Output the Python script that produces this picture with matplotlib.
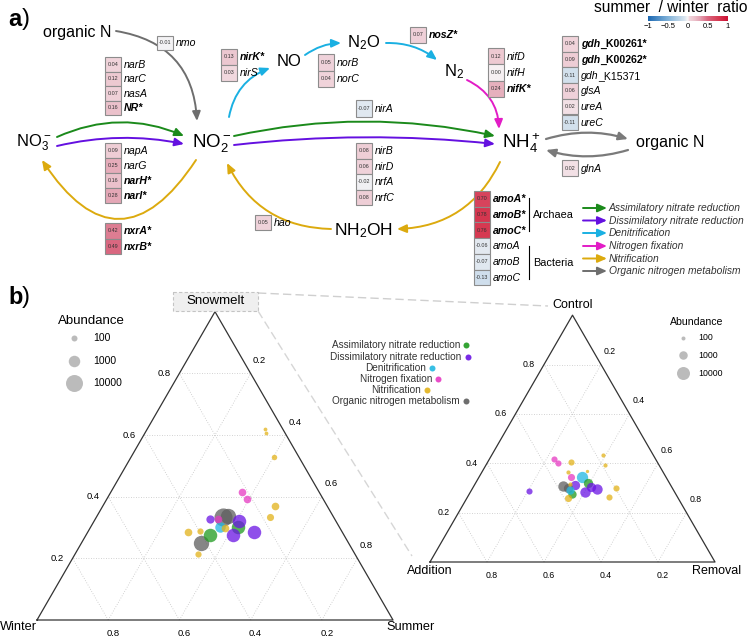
import numpy as np
import matplotlib.pyplot as plt
from matplotlib.patches import FancyArrowPatch, Rectangle
from matplotlib.colors import LinearSegmentedColormap, Normalize
from matplotlib.cm import ScalarMappable
from matplotlib.offsetbox import TextArea, HPacker, AnnotationBbox

plt.rcParams['font.family'] = ['Liberation Sans', 'DejaVu Sans']
plt.rcParams['mathtext.fontset'] = 'custom'
plt.rcParams['mathtext.rm'] = 'Liberation Sans'
plt.rcParams['mathtext.it'] = 'Liberation Sans:italic'
plt.rcParams['mathtext.bf'] = 'Liberation Sans:bold'

W, H = 749, 637

# ---- data: summer/winter ratio per gene ----
nar_genes = ['narB', 'narC', 'nasA', 'NR*']
nar_vals = [0.04, 0.12, 0.07, 0.16]
nap_genes = ['napA', 'narG', 'narH*', 'narI*']
nap_vals = [0.09, 0.25, 0.16, 0.28]
nxr_genes = ['nxrA*', 'nxrB*']
nxr_vals = [0.42, 0.49]
nmo_genes = ['nmo']
nmo_vals = [-0.01]
nir_genes = ['nirK*', 'nirS']
nir_vals = [0.13, 0.03]
nor_genes = ['norB', 'norC']
nor_vals = [0.05, 0.04]
nos_genes = ['nosZ*']
nos_vals = [0.07]
nirA_genes = ['nirA']
nirA_vals = [-0.07]
nrf_genes = ['nirB', 'nirD', 'nrfA', 'nrfC']
nrf_vals = [0.08, 0.06, -0.02, 0.08]
hao_genes = ['hao']
hao_vals = [0.05]
nif_genes = ['nifD', 'nifH', 'nifK*']
nif_vals = [0.12, 0.00, 0.24]
gdh_genes = ['gdh_K00261*', 'gdh_K00262*', 'gdh_K15371', 'glsA', 'ureA', 'ureC']
gdh_vals = [0.04, 0.09, -0.11, 0.06, 0.02, -0.11]
gln_genes = ['glnA']
gln_vals = [0.02]
amo_genes = ['amoA*', 'amoB*', 'amoC*', 'amoA', 'amoB', 'amoC']
amo_vals = [0.70, 0.78, 0.76, -0.06, -0.07, -0.13]

path_names = ['Assimilatory nitrate reduction', 'Dissimilatory nitrate reduction',
              'Denitrification', 'Nitrogen fixation', 'Nitrification',
              'Organic nitrogen metabolism']
arrow_colors = ['#1b8a1b', '#6410e0', '#1ab0e2', '#e21cc6', '#dcaa0e', '#6e6e6e']
point_colors = ['#1f9a1f', '#6a14e4', '#22b8e2', '#e63ac2', '#e2b21a', '#5e5e5e']

# ---- ternary data (left: Snowmelt / Summer / Winter) ----
left_group = [4, 4, 4, 4, 4, 4, 4, 4, 4, 3, 3, 3, 1, 1, 1, 1, 0, 0, 5, 5, 5, 2]
left_snow = [0.62, 0.605, 0.53, 0.37, 0.335, 0.285, 0.29, 0.215, 0.30, 0.415, 0.393, 0.327,
             0.327, 0.322, 0.287, 0.276, 0.276, 0.303, 0.249, 0.333, 0.338, 0.303]
left_summer = [0.33, 0.34, 0.40, 0.483, 0.486, 0.282, 0.313, 0.346, 0.377, 0.368, 0.393, 0.346,
               0.323, 0.407, 0.467, 0.412, 0.348, 0.414, 0.335, 0.357, 0.368, 0.363]
left_abund = [40, 40, 80, 200, 160, 200, 110, 110, 200, 200, 200, 200,
              260, 2300, 2300, 2300, 2300, 2300, 5000, 16000, 5000, 650]

# right: Control / Removal / Addition
right_group = [3, 3, 4, 4, 4, 4, 4, 4, 4, 4, 4, 1, 1, 1, 1, 1, 2, 2, 5, 5, 0, 0, 3]
right_control = [0.417, 0.40, 0.406, 0.435, 0.392, 0.365, 0.368, 0.301, 0.262, 0.258, 0.315,
                 0.286, 0.295, 0.285, 0.312, 0.304, 0.343, 0.292, 0.308, 0.30, 0.319, 0.276, 0.344]
right_removal = [0.228, 0.25, 0.291, 0.391, 0.419, 0.303, 0.368, 0.502, 0.498, 0.356, 0.334,
                 0.204, 0.438, 0.402, 0.353, 0.413, 0.361, 0.345, 0.312, 0.334, 0.396, 0.36, 0.322]
right_abund = [300, 300, 300, 110, 110, 110, 70, 300, 300, 500, 110,
               300, 2600, 2600, 1500, 1500, 4200, 900, 2600, 1500, 1500, 900, 500]

legend_abund = [100, 1000, 10000]

cmap = LinearSegmentedColormap.from_list('ratio', [
    (0.0, '#1c68b2'), (0.25, '#80b2d9'), (0.45, '#d5e2ed'), (0.5, '#f7f4f5'),
    (0.515, '#f0d5dc'), (0.57, '#ecc6cf'), (0.65, '#e3a2b2'), (0.75, '#d9647d'),
    (0.88, '#d63a52'), (1.0, '#cc1034')])
norm = Normalize(-1, 1)

fig = plt.figure(figsize=(W / 100, H / 100), dpi=100)
ax = fig.add_axes([0, 0, 1, 1])
ax.set_xlim(0, W)
ax.set_ylim(H, 0)
ax.axis('off')


def arrow(p0, p1, rad, color, lw=1.4):
    ax.add_patch(FancyArrowPatch(p0, p1, connectionstyle=f'arc3,rad={rad}',
                                 arrowstyle='-|>,head_length=0.55,head_width=0.24',
                                 mutation_scale=10, color=color, lw=lw,
                                 shrinkA=0, shrinkB=0))


def gene_label(x, y, name, size=7.6):
    weight = 'bold' if name.endswith('*') else 'normal'
    if '_' in name:
        stem, rest = name.split('_', 1)
        box = HPacker(children=[
            TextArea(stem, textprops=dict(style='italic', weight=weight, size=size)),
            TextArea('_' + rest, textprops=dict(weight=weight, size=size))],
            pad=0, sep=0, align='baseline')
        ax.add_artist(AnnotationBbox(box, (x, y), box_alignment=(0, 0.5),
                                     frameon=False, pad=0))
    else:
        ax.text(x, y, name, style='italic', weight=weight, size=size,
                ha='left', va='center')


def heat_column(x, y, step, genes, vals):
    for i, (g, v) in enumerate(zip(genes, vals)):
        yy = y + i * step
        ax.add_patch(Rectangle((x, yy), 16, step, facecolor=cmap(norm(v)),
                               edgecolor='#8c8c8c', lw=0.8))
        ax.text(x + 8, yy + step / 2, f'{v:.2f}', size=3.9, color='#333333',
                ha='center', va='center')
        gene_label(x + 19, yy + step / 2 + 0.5, g)


# ---- panel a ----
ax.text(8, 20, 'a', size=17, weight='bold', va='center')
ax.text(22, 19, ')', size=17, va='center')

chem = dict(ha='center', va='center', color='black')
ax.text(77, 33, 'organic N', size=11.5, **chem)
ax.text(34, 143, r'NO$_3^-$', size=12, **chem)
ax.text(212, 143, r'NO$_2^-$', size=13.5, **chem)
ax.text(289, 62, 'NO', size=12, **chem)
ax.text(364, 43, r'N$_2$O', size=12, **chem)
ax.text(454, 72, r'N$_2$', size=12, **chem)
ax.text(521, 143, r'NH$_4^+$', size=13.5, **chem)
ax.text(670, 143, 'organic N', size=11.5, **chem)
ax.text(364, 231, r'NH$_2$OH', size=12.5, **chem)

ac = dict(zip(['as', 'dis', 'den', 'fix', 'nit', 'org'], arrow_colors))
arrow((116, 31), (197, 121), -0.4, ac['org'])
arrow((57, 137), (184, 136), -0.22, ac['as'])
arrow((57, 146), (184, 144), -0.11, ac['dis'])
arrow((196, 160), (42, 160), -0.76, ac['nit'])
arrow((229, 117), (270, 68), -0.28, ac['den'])
arrow((305, 55), (341, 43), -0.15, ac['den'])
arrow((386, 43), (437, 60), -0.18, ac['den'])
arrow((467, 80), (499, 129), -0.3, ac['fix'])
arrow((234, 136), (495, 136), -0.11, ac['as'])
arrow((234, 145), (495, 144), -0.055, ac['dis'])
arrow((500, 162), (397, 229), -0.3, ac['nit'])
arrow((331, 229), (227, 163), -0.3, ac['nit'])
arrow((546, 139), (628, 139), -0.15, '#7a7a7a', lw=1.6)
arrow((628, 150), (546, 150), -0.15, '#7a7a7a', lw=1.6)

heat_column(105, 57, 14.5, nar_genes, nar_vals)
heat_column(105, 143, 15, nap_genes, nap_vals)
heat_column(105, 223, 15.5, nxr_genes, nxr_vals)
heat_column(157, 36, 14, nmo_genes, nmo_vals)
heat_column(221, 49, 16, nir_genes, nir_vals)
heat_column(318, 54, 16.5, nor_genes, nor_vals)
heat_column(410, 27, 15.5, nos_genes, nos_vals)
heat_column(356, 100, 16.5, nirA_genes, nirA_vals)
heat_column(356, 143, 15.5, nrf_genes, nrf_vals)
heat_column(255, 215, 15, hao_genes, hao_vals)
heat_column(488, 48, 16.3, nif_genes, nif_vals)
heat_column(562, 36, 15.7, gdh_genes, gdh_vals)
heat_column(562, 160, 16, gln_genes, gln_vals)
heat_column(474, 191, 15.7, amo_genes, amo_vals)

ax.plot([529, 529], [198, 231], color='black', lw=0.8)
ax.plot([529, 529], [246, 279], color='black', lw=0.8)
ax.text(533, 215, 'Archaea', size=7.8, va='center')
ax.text(533, 263, 'Bacteria', size=7.8, va='center')

leg_y = [208, 220.5, 233, 246, 258.5, 271]
for yy, name, col in zip(leg_y, path_names, arrow_colors):
    arrow((583, yy), (607, yy), 0, col, lw=1.4)
    ax.text(609, yy, name, style='italic', size=7.4, color='#333333', va='center')

ax.text(748, 8, 'summer  / winter  ratio', size=11.2, ha='right', va='center')
cax = fig.add_axes([648 / W, 1 - 21 / H, 80 / W, 5 / H])
cb = fig.colorbar(ScalarMappable(norm=norm, cmap=cmap), cax=cax, orientation='horizontal',
                  ticks=[-1, -0.5, 0, 0.5, 1])
cb.outline.set_visible(False)
cb.ax.tick_params(length=0, labelsize=5.5, pad=1.5)
cb.ax.set_xticklabels(['\u22121', '\u22120.5', '0', '0.5', '1'])

# ---- panel b ----
ax.text(8, 298, 'b', size=17, weight='bold', va='center')
ax.text(22, 297, ')', size=17, va='center')


def tern_xy(top, right, x0, y0, w):
    top = np.asarray(top, float)
    right = np.asarray(right, float)
    return x0 + w * (right + top / 2), y0 - w * np.sqrt(3) / 2 * top


def draw_ternary(x0, y0, w, tick_size):
    cx, cy = tern_xy([0, 0, 1, 0], [0, 1, 0, 0], x0, y0, w)
    ax.plot(cx, cy, color='#333333', lw=0.9, zorder=2)
    for v in [0.2, 0.4, 0.6, 0.8]:
        gl = dict(color='#c4c4c4', lw=0.6, ls=(0, (1, 2)), zorder=1)
        x, y = tern_xy([v, v], [0, 1 - v], x0, y0, w)
        ax.plot(x, y, **gl)
        x, y = tern_xy([0, 1 - v], [v, v], x0, y0, w)
        ax.plot(x, y, **gl)
        x, y = tern_xy([0, 1 - v], [1 - v, 0], x0, y0, w)
        ax.plot(x, y, **gl)
        lab = f'{v:.1f}'
        x, y = tern_xy(v, 0, x0, y0, w)
        ax.text(x - 15, y, lab, size=tick_size, ha='center', va='center')
        x, y = tern_xy(1 - v, v, x0, y0, w)
        ax.text(x + 9, y - 13, lab, size=tick_size, ha='center', va='center')
        x, y = tern_xy(0, 1 - v, x0, y0, w)
        ax.text(x + 5, y + 13, lab, size=tick_size, ha='center', va='center')


def size_left(a):
    d = 5.5 * np.log10(np.asarray(a, float)) - 5
    return (d * 0.72) ** 2


def size_right(a):
    d = 4.5 * np.log10(np.asarray(a, float)) - 5
    return (d * 0.72) ** 2


def scatter_tern(top, right, groups, abund, x0, y0, w, sizefn):
    x, y = tern_xy(top, right, x0, y0, w)
    order = np.argsort(abund)[::-1]
    for i in order:
        ax.scatter(x[i], y[i], s=sizefn(abund[i]), color=point_colors[groups[i]],
                   alpha=0.75, lw=0, zorder=3)


# connectors
ax.plot([258, 548], [293, 306], color='#cfcfcf', lw=1, ls=(0, (6, 3)), zorder=0)
ax.plot([258, 412], [311, 556], color='#d6d6d6', lw=1, ls=(0, (6, 3)), zorder=0)

draw_ternary(37, 620, 356, 6.8)
scatter_tern(left_snow, left_summer, left_group, left_abund, 37, 620, 356, size_left)
ax.add_patch(Rectangle((173, 292), 85, 19, facecolor='#efefef', edgecolor='#c4c4c4',
                       lw=0.8, ls=(0, (3, 2)), zorder=4))
ax.text(215.5, 301.5, 'Snowmelt', size=9.5, ha='center', va='center', zorder=5)
ax.text(18, 627, 'Winter', size=9.2, ha='center', va='center')
ax.text(411, 627, 'Summer', size=9.2, ha='center', va='center')

draw_ternary(430, 562, 285, 6.3)
scatter_tern(right_control, right_removal, right_group, right_abund, 430, 562, 285, size_right)
ax.text(573, 305, 'Control', size=9, ha='center', va='center')
ax.text(430, 571, 'Addition', size=9, ha='center', va='center')
ax.text(717, 571, 'Removal', size=9, ha='center', va='center')

# abundance legends
ax.text(91, 321, 'Abundance', size=9.5, ha='center', va='center')
for yy, a in zip([338, 361, 383], legend_abund):
    ax.scatter(74, yy, s=size_left(a), color='#b0b0b0', alpha=0.85, lw=0)
    ax.text(93, yy, str(a), size=7.5, va='center')
ax.text(697, 322, 'Abundance', size=7.6, ha='center', va='center')
for yy, a in zip([338, 355, 373], legend_abund):
    ax.scatter(683, yy, s=size_right(a), color='#b0b0b0', alpha=0.85, lw=0)
    ax.text(698, yy, str(a), size=6.3, va='center')

# pathway legend (text centred, dot after text)
fig.canvas.draw()
inv = ax.transData.inverted()
for yy, name, col in zip([345, 356.5, 368, 378.5, 390, 401], path_names, point_colors):
    t = ax.text(396, yy, name, size=7.2, color='#333333', ha='center', va='center')
    bb = t.get_window_extent(renderer=fig.canvas.get_renderer())
    xe = inv.transform((bb.x1, bb.y0))[0]
    ax.scatter(xe + 6, yy, s=(6 * 0.72) ** 2, color=col, lw=0, alpha=0.9)

fig.savefig('out.png', dpi=100)
